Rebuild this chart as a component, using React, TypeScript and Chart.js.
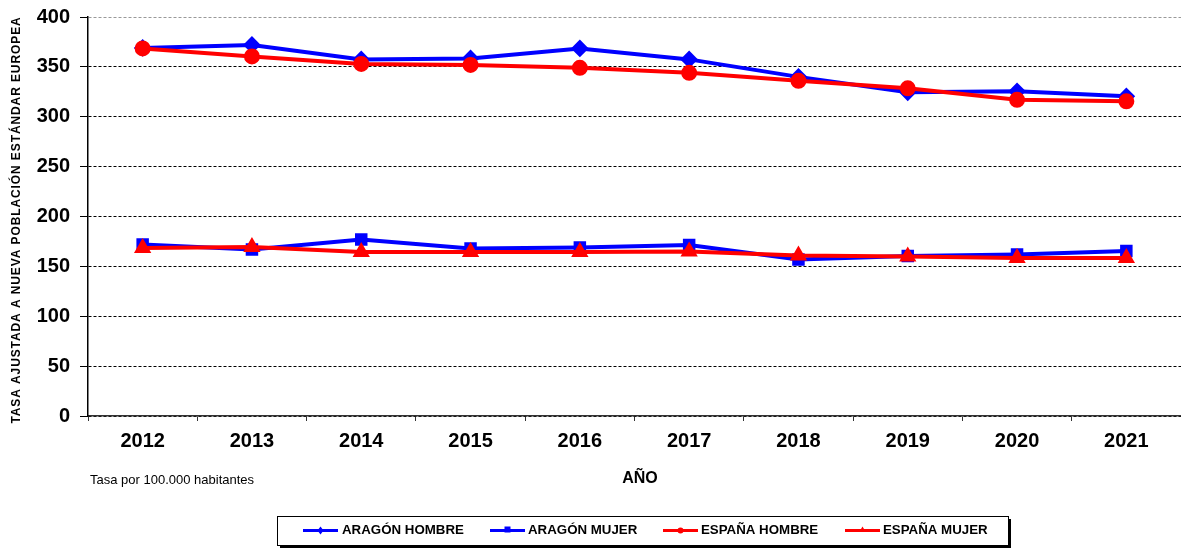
import React, { useEffect, useRef } from "react";
import { Chart, registerables } from "chart.js";

Chart.register(...registerables);

const years = ["2012", "2013", "2014", "2015", "2016", "2017", "2018", "2019", "2020", "2021"];
const aragonHombre = [369, 372, 357.5, 358.5, 368.5, 357.5, 340, 324.5, 325.5, 320.5];
const aragonMujer = [172, 167, 177, 168, 169, 171.5, 157, 160.5, 162, 165.5];
const espanaHombre = [368.5, 360.5, 353, 352, 349, 344, 336, 328.5, 317, 315.5];
const espanaMujer = [168.5, 169.5, 164.5, 164.5, 164.5, 165, 161, 160, 158.5, 158.5];
const yTicks = [0, 50, 100, 150, 200, 250, 300, 350, 400];

const seriesNames = ["ARAGÓN HOMBRE", "ARAGÓN MUJER", "ESPAÑA HOMBRE", "ESPAÑA MUJER"];
const BLUE = "#0000FF";
const RED = "#FF0000";
const FONT = "'Liberation Sans', Arial, sans-serif";

const W = 1181;
const H = 549;

const overlay = {
  id: "overlay",
  afterDraw(chart: any) {
    const ctx = chart.ctx as CanvasRenderingContext2D;
    ctx.save();
    // y axis title
    ctx.fillStyle = "#000";
    ctx.font = `bold 12px ${FONT}`;
    (ctx as any).letterSpacing = "0.9px";
    ctx.textAlign = "center";
    ctx.textBaseline = "middle";
    ctx.translate(17, 220);
    ctx.rotate(-Math.PI / 2);
    ctx.fillText("TASA AJUSTADA A NUEVA POBLACIÓN ESTÁNDAR EUROPEA", 0, 0);
    ctx.restore();

    ctx.save();
    ctx.fillStyle = "#000";
    ctx.font = `bold 16px ${FONT}`;
    ctx.textAlign = "center";
    ctx.textBaseline = "middle";
    ctx.fillText("AÑO", 640, 479);
    ctx.font = `13px ${FONT}`;
    ctx.textAlign = "left";
    ctx.fillText("Tasa por 100.000 habitantes", 90, 480);

    // legend box
    const lx = 277, ly = 516, lw = 731, lh = 29;
    ctx.fillStyle = "#000";
    ctx.fillRect(lx + 3, ly + 3, lw, lh);
    ctx.fillStyle = "#fff";
    ctx.fillRect(lx, ly, lw, lh);
    ctx.strokeStyle = "#000";
    ctx.lineWidth = 1;
    ctx.strokeRect(lx + 0.5, ly + 0.5, lw, lh);

    const items = [
      { x: 303, tx: 342, color: BLUE, marker: "diamond" },
      { x: 490, tx: 528, color: BLUE, marker: "square" },
      { x: 663, tx: 701, color: RED, marker: "circle" },
      { x: 845, tx: 883, color: RED, marker: "triangle" },
    ];
    const cy = 530.5;
    items.forEach((it, i) => {
      ctx.strokeStyle = it.color;
      ctx.fillStyle = it.color;
      ctx.lineWidth = 3;
      ctx.beginPath();
      ctx.moveTo(it.x, cy);
      ctx.lineTo(it.x + 35, cy);
      ctx.stroke();
      const mx = it.x + 17.5;
      ctx.beginPath();
      if (it.marker === "diamond") {
        ctx.moveTo(mx, cy - 4); ctx.lineTo(mx + 3, cy); ctx.lineTo(mx, cy + 4); ctx.lineTo(mx - 3, cy);
      } else if (it.marker === "square") {
        ctx.rect(mx - 3, cy - 4, 6, 6);
      } else if (it.marker === "circle") {
        ctx.arc(mx, cy, 3, 0, Math.PI * 2);
      } else {
        ctx.moveTo(mx, cy - 4); ctx.lineTo(mx + 3, cy + 1); ctx.lineTo(mx - 3, cy + 1);
      }
      ctx.closePath();
      ctx.fill();
      ctx.fillStyle = "#000";
      ctx.font = `bold 13.3px ${FONT}`;
      ctx.textAlign = "left";
      ctx.textBaseline = "middle";
      ctx.fillText(seriesNames[i], it.tx, cy);
    });
    ctx.restore();
  },
};

export default function App() {
  const ref = useRef<HTMLCanvasElement | null>(null);
  useEffect(() => {
    if (!ref.current) return;
    const chart = new Chart(ref.current, {
      type: "line",
      data: {
        labels: years,
        datasets: [
          {
            label: seriesNames[0], data: aragonHombre, borderColor: BLUE, backgroundColor: BLUE,
            borderWidth: 4, pointStyle: "rectRot", pointRadius: 6, order: 2,
          },
          {
            label: seriesNames[1], data: aragonMujer, borderColor: BLUE, backgroundColor: BLUE,
            borderWidth: 4, pointStyle: "rect", pointRadius: 6, order: 2,
          },
          {
            label: seriesNames[2], data: espanaHombre, borderColor: RED, backgroundColor: RED,
            borderWidth: 4, pointStyle: "circle", pointRadius: 6, order: 1,
          },
          {
            label: seriesNames[3], data: espanaMujer, borderColor: RED, backgroundColor: RED,
            borderWidth: 4, pointStyle: "triangle", pointRadius: 6, order: 1,
          },
        ],
      },
      options: {
        responsive: false,
        animation: false,
        layout: { autoPadding: false, padding: { top: 17, right: 0, left: 0, bottom: 0 } },
        plugins: { legend: { display: false }, tooltip: { enabled: false } },
        elements: { line: { tension: 0 }, point: { borderWidth: 0 } },
        scales: {
          x: {
            type: "category",
            offset: true,
            grid: {
              offset: true, drawOnChartArea: false, drawTicks: true, tickLength: 5,
              color: "#333", tickColor: "#333",
            },
            border: { display: true, color: "#333", width: 1.5 },
            ticks: { color: "#000", font: { family: FONT, size: 20, weight: "bold" }, padding: 8, maxRotation: 0 },
            afterFit(scale: any) {
              scale.height = H - 416;
              scale.paddingLeft = 0;
              scale.paddingRight = 0;
            },
          },
          y: {
            min: 0, max: 400,
            afterBuildTicks(scale: any) { scale.ticks = yTicks.map((v) => ({ value: v })); },
            grid: {
              color: (c: any) => (c.tick && c.tick.value === 400 ? "#999" : "#000"),
              tickColor: "#000",
              tickLength: 8,
              lineWidth: 1,
            },
            border: { display: true, color: "#000", width: 1.5, dash: [3, 2] },
            ticks: { color: "#000", font: { family: FONT, size: 20, weight: "bold" }, padding: 10 },
            afterFit(scale: any) {
              scale.width = 88;
              scale.paddingTop = 0;
              scale.paddingBottom = 0;
            },
          },
        },
      },
      plugins: [overlay],
    } as any);
    return () => chart.destroy();
  }, []);
  return (
    <div style={{ position: "absolute", left: 0, top: 0, width: W, height: H, background: "#fff" }}>
      <canvas ref={ref} width={W} height={H} style={{ width: W, height: H, display: "block" }} />
    </div>
  );
}
